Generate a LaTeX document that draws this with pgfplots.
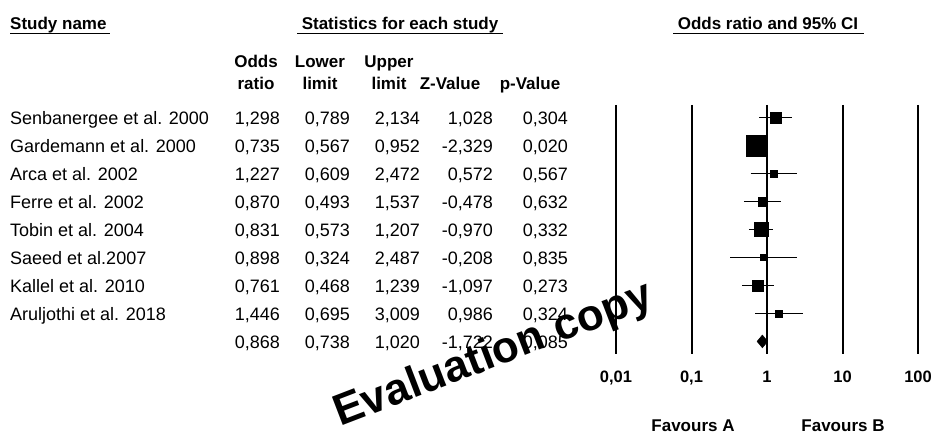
\documentclass[border=0pt]{standalone}
\usepackage{pgfplots}
\pgfplotsset{compat=1.18}
\usepackage{fontspec}
\setmainfont{Liberation Sans}
\newcommand\row[7]{%
  \pgfmathsetmacro\yy{310.6-28*(#1-1)}%
  \node[anchor=base west] at (10,\yy) {#2};%
  \node[anchor=base east] at (280,\yy) {#3};%
  \node[anchor=base east] at (350,\yy) {#4};%
  \node[anchor=base east] at (420,\yy) {#5};%
  \node[anchor=base east] at (493,\yy) {#6};%
  \node[anchor=base east] at (568,\yy) {#7};%
}
\begin{document}
\begin{tikzpicture}[font=\fontsize{18}{20}\selectfont]
\useasboundingbox (0pt,0pt) rectangle (936pt,435pt);
\begin{axis}[at={(616pt,81pt)}, anchor=south west, scale only axis,
  width=302pt, height=249pt,
  xmode=log, xmin=0.01, xmax=100, ymin=0.55, ymax=9.45, y dir=reverse,
  axis line style={draw=none},
  xtick={0.01,0.1,1,10,100}, xticklabels={{0,01},{0,1},1,10,100},
  minor xtick={}, ytick=\empty, major tick length=0pt, minor tick length=0pt,
  tick style={draw=none},
  xmajorgrids, major grid style={black, line width=2pt},
  xticklabel style={font=\fontsize{16.5}{18}\selectfont\bfseries, anchor=base, inner sep=0pt, yshift=-29pt},
  clip=false]
% confidence intervals
\addplot[black, line width=1.8pt] coordinates {(0.789,1) (2.134,1)};
\addplot[black, line width=1.8pt] coordinates {(0.567,2) (0.952,2)};
\addplot[black, line width=1.8pt] coordinates {(0.609,3) (2.472,3)};
\addplot[black, line width=1.8pt] coordinates {(0.493,4) (1.537,4)};
\addplot[black, line width=1.8pt] coordinates {(0.573,5) (1.207,5)};
\addplot[black, line width=1.8pt] coordinates {(0.324,6) (2.487,6)};
\addplot[black, line width=1.8pt] coordinates {(0.468,7) (1.239,7)};
\addplot[black, line width=1.8pt] coordinates {(0.695,8) (3.009,8)};
% point estimates (weights)
\addplot[only marks, mark=square*, mark size=5.3pt, black] coordinates {(1.298,1)};
\addplot[only marks, mark=square*, mark size=10.5pt, black] coordinates {(0.735,2)};
\addplot[only marks, mark=square*, mark size=3.7pt, black] coordinates {(1.227,3)};
\addplot[only marks, mark=square*, mark size=4.3pt, black] coordinates {(0.870,4)};
\addplot[only marks, mark=square*, mark size=7pt, black] coordinates {(0.831,5)};
\addplot[only marks, mark=square*, mark size=3pt, black] coordinates {(0.898,6)};
\addplot[only marks, mark=square*, mark size=5.5pt, black] coordinates {(0.761,7)};
\addplot[only marks, mark=square*, mark size=3.5pt, black] coordinates {(1.446,8)};
% summary diamond
\addplot[black, fill=black] coordinates {(0.738,9) (0.868,8.77) (1.020,9) (0.868,9.23) (0.738,9)};
\end{axis}
\begin{scope}[x=1pt,y=1pt,every node/.style={inner sep=0pt}]
% headers
\begin{scope}[font=\fontsize{17}{19}\selectfont\bfseries]
\node[anchor=base west] at (10,405) {Study name};
\node[anchor=base] at (400,405) {Statistics for each study};
\node[anchor=base] at (768,405) {Odds ratio and 95\% CI};
\node[anchor=base] at (256,367) {Odds};
\node[anchor=base] at (256,345) {ratio};
\node[anchor=base] at (320,367) {Lower};
\node[anchor=base] at (320,345) {limit};
\node[anchor=base] at (389,367) {Upper};
\node[anchor=base] at (389,345) {limit};
\node[anchor=base] at (450,345) {Z-Value};
\node[anchor=base] at (530,345) {p-Value};
\node[anchor=base] at (693,3) {Favours A};
\node[anchor=base] at (843,3) {Favours B};
\end{scope}
\draw[line width=1.3pt] (10,401.5) -- (110,401.5);
\draw[line width=1.3pt] (297,401.5) -- (503,401.5);
\draw[line width=1.3pt] (673,401.5) -- (864,401.5);
% table
\row{1}{Senbanergee et al. 2000}{1,298}{0,789}{2,134}{1,028}{0,304}
\row{2}{Gardemann et al. 2000}{0,735}{0,567}{0,952}{-2,329}{0,020}
\row{3}{Arca et al. 2002}{1,227}{0,609}{2,472}{0,572}{0,567}
\row{4}{Ferre et al. 2002}{0,870}{0,493}{1,537}{-0,478}{0,632}
\row{5}{Tobin et al. 2004}{0,831}{0,573}{1,207}{-0,970}{0,332}
\row{6}{Saeed et al.2007}{0,898}{0,324}{2,487}{-0,208}{0,835}
\row{7}{Kallel et al. 2010}{0,761}{0,468}{1,239}{-1,097}{0,273}
\row{8}{Aruljothi et al. 2018}{1,446}{0,695}{3,009}{0,986}{0,324}
\row{9}{}{0,868}{0,738}{1,020}{-1,722}{0,085}
% watermark
\node[rotate=21, anchor=base west, font=\fontsize{44}{46}\selectfont\bfseries] at (340,8) {Evaluation copy};
\end{scope}
\end{tikzpicture}
\end{document}
